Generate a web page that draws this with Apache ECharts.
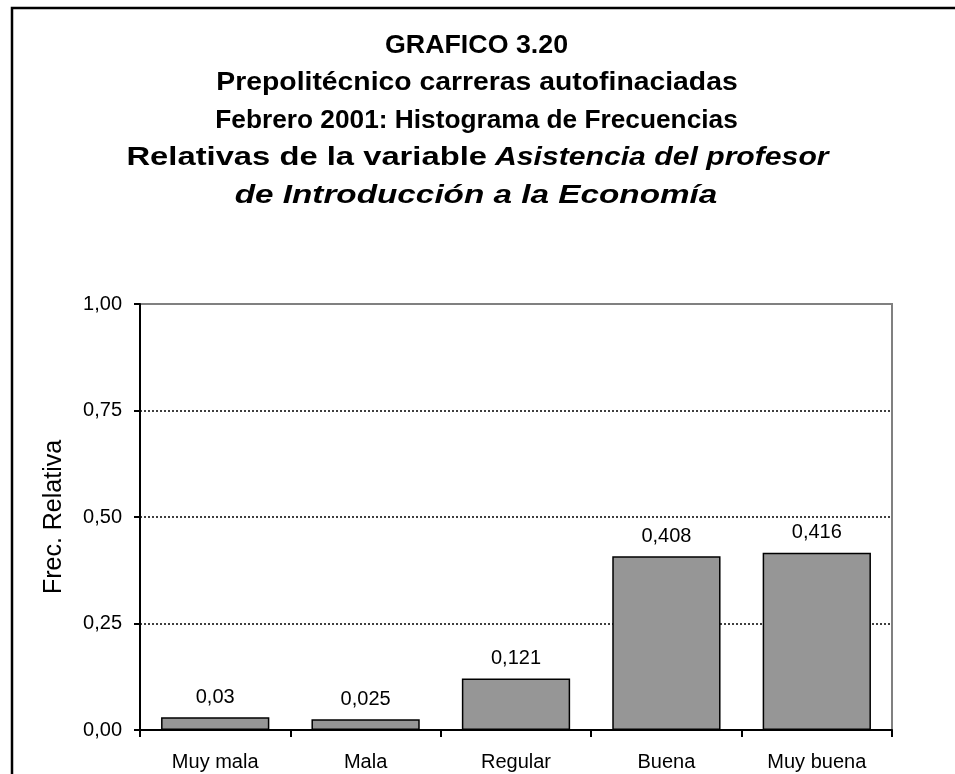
<!DOCTYPE html>
<html>
<head>
<meta charset="utf-8">
<script src="https://cdn.jsdelivr.net/npm/echarts@6/dist/echarts.min.js"></script>
<style>
html,body{margin:0;padding:0;background:#fff;}
#chart{width:955px;height:774px;}
</style>
</head>
<body>
<div id="chart"></div>
<script>
var categories = ['Muy mala', 'Mala', 'Regular', 'Buena', 'Muy buena'];
var values = [0.03, 0.025, 0.121, 0.408, 0.416];
var yMin = 0, yMax = 1, yInterval = 0.25;
var yAxisName = 'Frec. Relativa';
var titleLines = [
  'GRAFICO 3.20',
  'Prepolitécnico carreras autofinaciadas',
  'Febrero 2001: Histograma de Frecuencias',
  'Relativas de la variable',
  'Asistencia del profesor',
  'de Introducción a la Economía'
];

var FONT = '"Liberation Sans", Arial, sans-serif';
var BOLD = 'bold 26px ' + FONT;
var BOLDIT = 'italic bold 26px ' + FONT;
function comma(v, d) {
  return (d === undefined ? String(v) : v.toFixed(d)).replace('.', ',');
}
function titleText(str, x, y, align, font, sx) {
  return {
    type: 'text', x: x, y: y, scaleX: sx, silent: true, z: 10,
    style: {text: str, font: font, fill: '#000', textAlign: align, textVerticalAlign: 'middle'}
  };
}

var chart = echarts.init(document.getElementById('chart'), null, {renderer: 'canvas'});
chart.setOption({
  backgroundColor: '#ffffff',
  animation: false,
  textStyle: {fontFamily: FONT},
  graphic: [
    {
      type: 'rect', z: -10, silent: true,
      shape: {x: 12, y: 8, width: 1000, height: 800},
      style: {fill: 'none', stroke: '#000', lineWidth: 2.5}
    },
    titleText(titleLines[0], 476.5, 45.5, 'center', BOLD, 1.03),
    titleText(titleLines[1], 477, 83, 'center', BOLD, 1.09),
    titleText(titleLines[2], 476.5, 120.5, 'center', BOLD, 1.01),
    titleText(titleLines[3], 487, 158, 'right', BOLD, 1.26),
    titleText(titleLines[4], 495, 158, 'left', BOLDIT, 1.16),
    titleText(titleLines[5], 476, 195.5, 'center', BOLDIT, 1.28)
  ],
  grid: {
    left: 140, top: 304, right: 63, bottom: 44,
    show: true, borderColor: '#808080', borderWidth: 2, backgroundColor: 'transparent'
  },
  xAxis: {
    type: 'category',
    data: categories,
    axisLine: {show: true, lineStyle: {color: '#000', width: 2}},
    axisTick: {show: true, alignWithLabel: false, length: 7, lineStyle: {color: '#000', width: 2}},
    axisLabel: {fontFamily: FONT, fontSize: 20, color: '#000', margin: 22, interval: 0},
    splitLine: {show: false}
  },
  yAxis: {
    type: 'value',
    min: yMin, max: yMax, interval: yInterval,
    name: yAxisName,
    nameLocation: 'middle',
    nameGap: 73,
    nameTextStyle: {fontFamily: FONT, fontSize: 25, color: '#000'},
    axisLine: {show: true, lineStyle: {color: '#000', width: 2}},
    axisTick: {show: true, length: 6, lineStyle: {color: '#000', width: 2}},
    axisLabel: {fontFamily: FONT, fontSize: 20, color: '#000', margin: 18,
      formatter: function (v) { return comma(v, 2); }},
    splitLine: {show: true, showMinLine: false, showMaxLine: false,
      lineStyle: {color: '#000', type: [2, 2], width: 1.5}}
  },
  series: [{
    type: 'bar',
    data: values,
    barWidth: '72%',
    itemStyle: {color: '#969696', borderColor: '#000', borderWidth: 1.5},
    label: {
      show: true, position: 'top', distance: 10,
      fontFamily: FONT, fontSize: 20, color: '#000',
      formatter: function (p) { return comma(p.value); }
    }
  }]
});
</script>
</body>
</html>
